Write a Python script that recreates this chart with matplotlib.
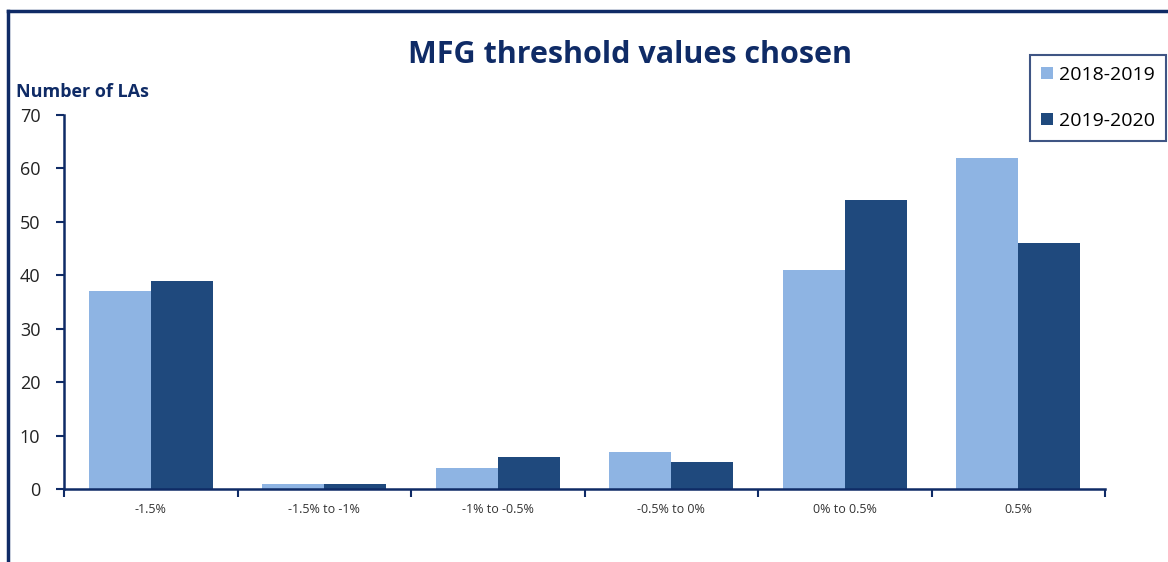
import numpy as np
import matplotlib.pyplot as plt
from matplotlib.lines import Line2D

# data
categories = ['-1.5%', '-1.5% to -1%', '-1% to -0.5%', '-0.5% to 0%', '0% to 0.5%', '0.5%']
vals_1819 = [37, 1, 4, 7, 41, 62]
vals_1920 = [39, 1, 6, 5, 54, 46]
series_names = ['2018-2019', '2019-2020']

light = '#8EB4E3'
dark = '#1F497D'
navy = '#0F2B66'

plt.rcParams['font.family'] = ['Open Sans', 'DejaVu Sans']

fig = plt.figure(figsize=(11.68, 5.62), dpi=100)
ax = fig.add_axes([64 / 1168, 1 - 489 / 562, (1105 - 64) / 1168, (489 - 115) / 562])

x = np.arange(len(categories))
w = 0.357
ax.bar(x - w / 2, vals_1819, w, color=light, label=series_names[0])
ax.bar(x + w / 2, vals_1920, w, color=dark, label=series_names[1])

ax.set_xlim(-0.5, len(categories) - 0.5)
ax.set_ylim(0, 70)
ax.set_yticks(range(0, 71, 10))
ax.set_xticks(x)
ax.set_xticklabels(categories, fontsize=9, color='#333333')
ax.set_xticks(np.arange(-0.5, len(categories)), minor=True)
ax.tick_params(axis='x', which='major', length=0, pad=10)
ax.tick_params(axis='x', which='minor', length=6, width=1.5, color=navy)
ax.tick_params(axis='y', length=6, width=1.5, color=navy, labelsize=13,
               labelcolor='#222222', pad=11)

for s in ['top', 'right']:
    ax.spines[s].set_visible(False)
for s in ['left', 'bottom']:
    ax.spines[s].set_color(navy)
    ax.spines[s].set_linewidth(1.8)

fig.text(630 / 1168, 1 - 55 / 562, 'MFG threshold values chosen', ha='center', va='center',
         fontsize=22, fontweight='bold', color=navy)
fig.text(16 / 1168, 1 - 92 / 562, 'Number of LAs', ha='left', va='center',
         fontsize=13, fontweight='bold', color=navy)

leg = fig.legend(loc='upper right', bbox_to_anchor=(1166 / 1168, 1 - 55 / 562),
                 fontsize=14, frameon=True, fancybox=False, handlelength=0.6,
                 handleheight=0.6, handletextpad=0.35, labelspacing=1.45,
                 borderpad=0.55, borderaxespad=0)
leg.get_frame().set_edgecolor(navy)
leg.get_frame().set_linewidth(1.5)

# outer frame (left and top edges)
fig.add_artist(Line2D([8 / 1168, 8 / 1168], [0, 1 - 11 / 562], transform=fig.transFigure,
                      color=navy, linewidth=2.5))
fig.add_artist(Line2D([8 / 1168, 1], [1 - 11 / 562, 1 - 11 / 562], transform=fig.transFigure,
                      color=navy, linewidth=2.5))

fig.savefig('out.png', dpi=100)
